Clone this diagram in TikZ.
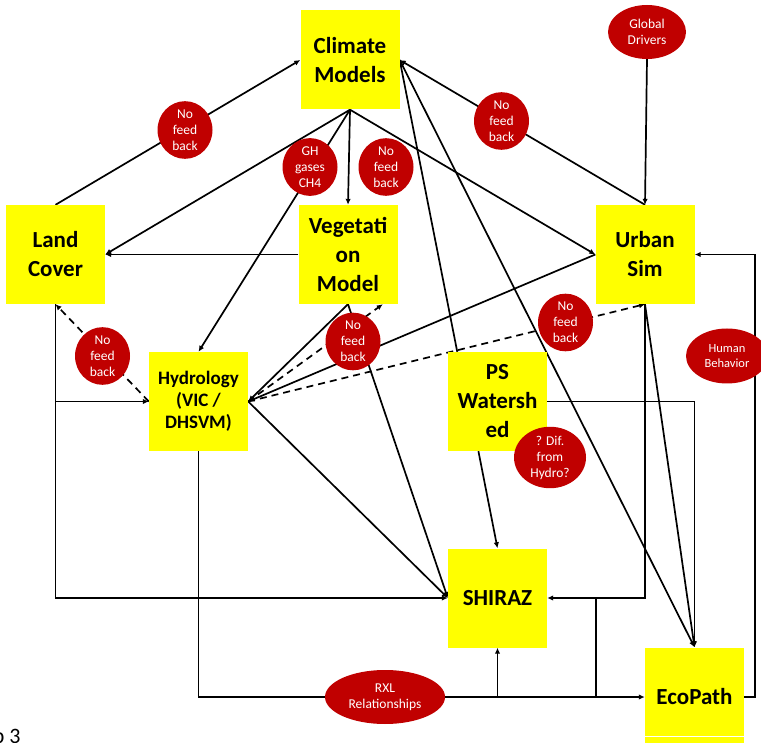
\documentclass[tikz,border=0pt]{standalone}
\usepackage{fontspec}
\setmainfont{Carlito}
\usetikzlibrary{arrows.meta,shapes.geometric,calc}
\pgfdeclarelayer{bg}
\pgfsetlayers{bg,main}
\definecolor{boxyellow}{HTML}{FFFF00}
\definecolor{notered}{HTML}{C00000}

\begin{document}
\begin{tikzpicture}[x=1pt,y=-1pt,
  model/.style={fill=boxyellow, minimum width=99pt, minimum height=99pt,
    inner sep=0pt, align=center, font=\fontsize{23}{29}\selectfont\bfseries},
  note/.style={ellipse, fill=notered, text=white, inner sep=0pt, align=center,
    minimum width=55pt, minimum height=55pt, font=\fontsize{13.5}{16}\selectfont},
  link/.style={line width=1.7pt, -{Latex[length=6pt,width=5.5pt]}},
  plain/.style={line width=1.7pt},
  nofb/.style={dash pattern=on 7pt off 5pt}]

\useasboundingbox (0,0) rectangle (761,743);

% model boxes
\node[model] (clim)  at (350,60)    {Climate\\Models};
\node[model] (land)  at (55.5,254.5) {Land\\Cover};
\node[model] (veg)   at (348,254.5) {Vegetati\\on\\Model};
\node[model] (urban) at (645,254.5) {Urban\\Sim};
\node[model, font=\fontsize{19}{22}\selectfont\bfseries] (hyd) at (198.5,401.5) {Hydrology\\(VIC /\\DHSVM)};
\node[model] (ps)    at (497.5,401.5) {PS\\Watersh\\ed};
\node[model] (shiraz) at (497.5,598) {SHIRAZ};
\node[model] (eco)   at (694.5,697) {EcoPath};
\draw[white, line width=1.2pt] (645,736.5) -- (744,736.5);

% annotations
\node[note] (nf1) at (185,130) {No\\feed\\back};
\node[note] (gh)  at (310,167) {GH\\gases\\CH4};
\node[note] (nf2) at (386,167) {No\\feed\\back};
\node[note, minimum width=78pt, minimum height=54pt] (global) at (647,32) {Global\\Drivers};
\node[note] (nf3) at (501.5,121) {No\\feed\\back};
\node[note] (nf4) at (102.5,356) {No\\feed\\back};
\node[note] (nf5) at (353,341.5) {No\\feed\\back};
\node[note] (nf6) at (565.5,322.5) {No\\feed\\back};
\node[note, minimum width=82pt, minimum height=55pt, font=\fontsize{12.5}{15}\selectfont] (human) at (727,356) {Human\\Behavior};
\node[note, minimum width=72pt, minimum height=55pt] (dif) at (550,457.5) {? Dif.\\from\\Hydro?};
\node[note, minimum width=120pt, minimum height=54pt] (rxl) at (385,697) {RXL\\Relationships};

\node[anchor=base east, font=\fontsize{22}{26}\selectfont] (pg) at (24,743.5) {p 3};

\coordinate (tee) at (596,598);

% connectors
\begin{pgfonlayer}{bg}
  \draw[link] (land.north) -- (clim.west);
  \draw[link] (clim.south) -- (land.east);
  \draw[link] (clim.south) -- (hyd.north);
  \draw[link] (clim.south) -- (veg.north);
  \draw[link] (clim.south) -- (urban.west);
  \draw[link] (urban.north) -- (clim.east);
  \draw[link] (ps.129) -- (clim.east);
  \draw[link] (clim.east) -- (eco.north);
  \draw[link] (global.south) -- (urban.north);
  \draw[link] (veg.west) -- (land.east);
  \draw[link] (veg.south) -- (hyd.east);
  \draw[link, nofb] (hyd.east) -- (veg.-55);
  \draw[link] (urban.west) -- (hyd.east);
  \draw[link, nofb] (hyd.east) -- (urban.south);
  \draw[link] (hyd.east) -- (shiraz.west);
  \draw[link] (veg.south) -- (shiraz.west);
  \draw[link] (urban.south) |- (shiraz.east);
  \draw[link] (urban.south) -- (eco.north);
  \draw[link] (ps.east) -| (eco.north);
  \draw[link] (ps.-111) -- (shiraz.north);
  \draw[link] (eco.east) -- ++(11,0) |- (urban.east);
  \draw[link] (land.south) |- (shiraz.west);
  \draw[link] (land.south |- hyd.west) -- (hyd.west);
  \draw[link, nofb] (hyd.west) -- (land.south);
  \draw[plain] (hyd.south) |- (rxl.west);
  \draw[link] (rxl.east) -- (eco.west);
  \draw[link] (shiraz.south |- rxl.east) -- (shiraz.south);
  \draw[plain] (tee) -- (tee |- rxl.east);
\end{pgfonlayer}
\end{tikzpicture}
\end{document}
